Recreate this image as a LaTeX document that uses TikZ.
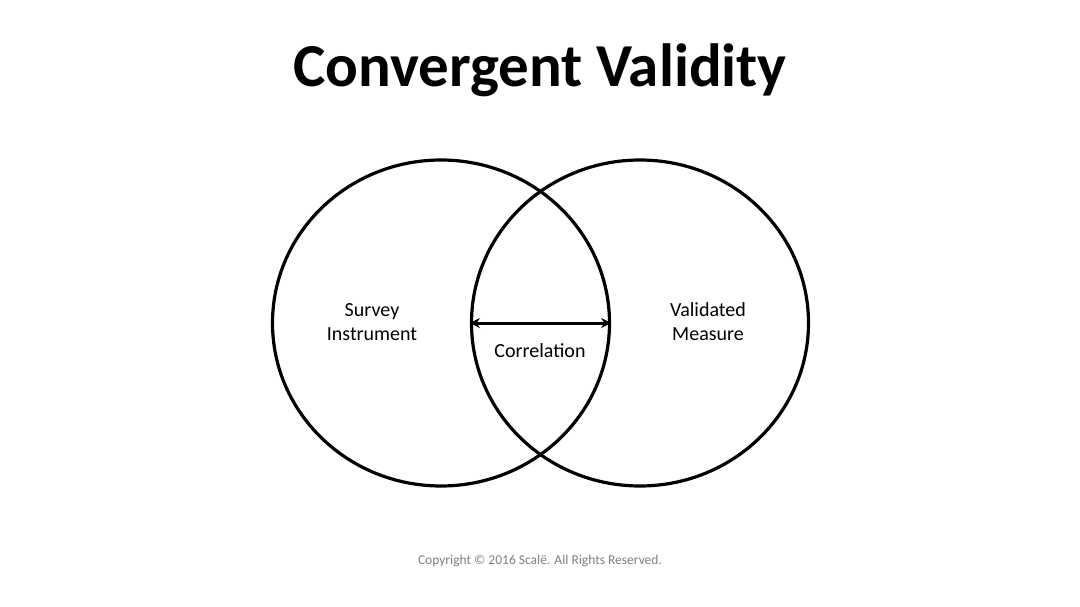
\documentclass[tikz,border=0pt]{standalone}
\usepackage{fontspec}
\setmainfont{Carlito}
\usetikzlibrary{arrows.meta,shapes.geometric}
\tikzset{
  ring/.style={draw, line width=3.2pt, ellipse, minimum width=337pt, minimum height=326pt, inner sep=0pt},
  label/.style={align=center, font=\fontsize{20}{24}\selectfont},
}
\begin{document}
\begin{tikzpicture}[x=1pt,y=-1pt]
\useasboundingbox (0,0) rectangle (1080,607);
\node (title) at (540,70) {\fontsize{61}{66}\selectfont\bfseries Convergent Validity};
\node[ring] (left) at (441,323) {};
\node[ring] (right) at (640,323) {};
\node[label] (survey) at (372,322) {Survey\\Instrument};
\node[label] (measure) at (708,322) {Validated\\Measure};
\node[label] (corr) at (540,351) {Correlation};
\coordinate (a) at (right.west);
\coordinate (b) at (left.east);
\draw[line width=3pt, {Stealth[length=10pt,width=10pt]}-{Stealth[length=10pt,width=10pt]}] (a) -- (b);
\node[text=gray, font=\fontsize{13.5}{16}\selectfont] (copy) at (540,561) {Copyright © 2016 Scalë. All Rights Reserved.};
\end{tikzpicture}
\end{document}
